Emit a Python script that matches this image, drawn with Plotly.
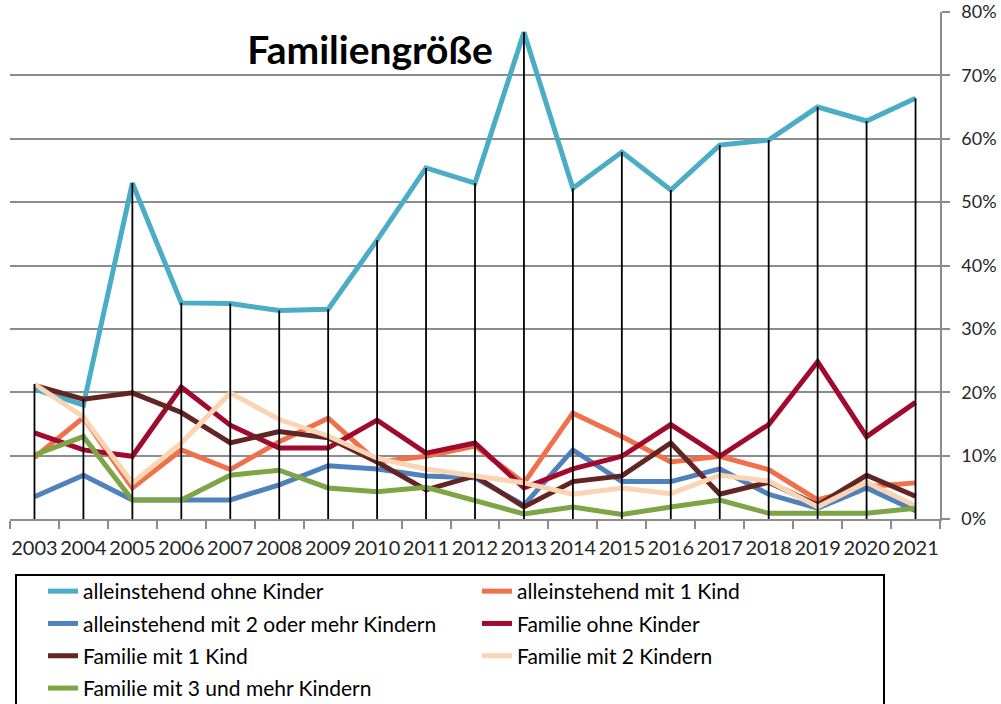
import plotly.graph_objects as go

years = [str(y) for y in range(2003, 2022)]

allein_ohne = [20.5, 18.0, 53.0, 34.1, 34.0, 32.9, 33.1, 44.0, 55.4, 53.0, 76.8, 52.2, 57.9, 51.9, 59.0, 59.8, 65.0, 62.8, 66.4]
allein_1 = [9.7, 16.0, 4.9, 10.9, 7.8, 12.2, 15.9, 9.0, 9.9, 11.5, 5.7, 16.7, 13.0, 9.0, 9.9, 7.8, 3.0, 5.1, 5.7]
allein_2 = [3.5, 6.9, 3.0, 3.0, 3.0, 5.4, 8.4, 7.9, 6.8, 6.5, 2.2, 10.9, 5.9, 5.9, 7.9, 3.9, 1.7, 4.9, 1.3]
fam_ohne = [13.6, 10.9, 9.9, 20.8, 14.8, 11.2, 11.2, 15.6, 10.4, 12.0, 4.9, 7.9, 9.9, 14.9, 9.9, 14.9, 24.8, 13.0, 18.4]
fam_1 = [21.1, 18.9, 19.9, 16.8, 12.0, 13.8, 12.8, 9.0, 4.6, 6.8, 1.9, 5.9, 6.8, 12.0, 3.9, 5.8, 2.2, 6.9, 3.6]
fam_2 = [21.3, 16.1, 5.7, 12.0, 19.9, 15.7, 13.1, 9.6, 7.9, 6.8, 5.7, 3.9, 4.9, 4.0, 6.9, 6.0, 1.9, 5.8, 2.1]
fam_3 = [10.1, 13.0, 3.0, 3.0, 6.9, 7.7, 4.9, 4.3, 5.0, 2.8, 0.8, 1.9, 0.7, 1.9, 3.0, 0.9, 0.9, 0.9, 1.7]

series_names = [
    "alleinstehend ohne Kinder",
    "alleinstehend mit 1 Kind",
    "alleinstehend mit 2 oder mehr Kindern",
    "Familie ohne Kinder",
    "Familie mit 1 Kind",
    "Familie mit 2 Kindern",
    "Familie mit 3 und mehr Kindern",
]
series_values = [allein_ohne, allein_1, allein_2, fam_ohne, fam_1, fam_2, fam_3]
colors = ["#4BACC6", "#F0704B", "#4F81BD", "#A20A2D", "#632523", "#FBD4B4", "#7DA445"]
legend_ref = ["legend", "legend2", "legend", "legend2", "legend", "legend2", "legend"]

y_ticks = list(range(0, 81, 10))

FONT = "Lato, 'Open Sans', sans-serif"

W, H = 1001, 704
PLOT_L, PLOT_R, PLOT_T, PLOT_B = 10, 940, 12, 519

def px_x(px):
    return (px - PLOT_L) / (PLOT_R - PLOT_L)

def px_y(py):
    return (PLOT_B - py) / (PLOT_B - PLOT_T)

fig = go.Figure()

for name, vals, col, lg in zip(series_names, series_values, colors, legend_ref):
    fig.add_trace(go.Scatter(
        x=years, y=vals, name=name, mode="lines",
        line=dict(color=col, width=5),
        legend=lg, legendgroup=name,
    ))

# drop lines from the highest value down to 0
dx, dy = [], []
for i, yr in enumerate(years):
    top = max(v[i] for v in series_values)
    dx += [yr, yr, None]
    dy += [0, top, None]
fig.add_trace(go.Scatter(x=dx, y=dy, mode="lines", line=dict(color="black", width=1.8),
                         showlegend=False, hoverinfo="skip"))

fig.update_layout(
    width=W, height=H,
    margin=dict(l=PLOT_L, r=W - PLOT_R, t=PLOT_T, b=H - PLOT_B, pad=0, autoexpand=False),
    paper_bgcolor="white", plot_bgcolor="white",
    font=dict(family=FONT, size=20, color="#262626"),
    title=dict(text="<b>Familiengröße</b>", x=370 / W, xref="container", xanchor="center",
               y=1 - 50 / H, yref="container", yanchor="middle",
               font=dict(family=FONT, size=39, color="black")),
    xaxis=dict(
        type="category", range=[-0.5, len(years) - 0.5],
        tickson="boundaries", ticks="outside", ticklen=8, tickcolor="#8c8c8c", tickwidth=1.5,
        showline=True, linecolor="#8c8c8c", linewidth=1.5,
        showgrid=False, zeroline=False, tickangle=0,
        tickfont=dict(family=FONT, size=20, color="#262626"),
        ticklabelstandoff=10,
    ),
    yaxis=dict(
        side="right", range=[0, 80], tickvals=y_ticks, ticktext=[f"{t}%" for t in y_ticks],
        ticks="outside", ticklen=8, tickcolor="#8c8c8c", tickwidth=1.5,
        showline=True, linecolor="#8c8c8c", linewidth=1.5,
        showgrid=True, gridcolor="#8c8c8c", gridwidth=1.5, zeroline=False,
        tickfont=dict(family=FONT, size=18, color="#262626"),
        ticklabelstandoff=8, ticklabeloverflow="allow",
    ),
    legend=dict(
        x=px_x(43), xanchor="left", y=px_y(571), yanchor="top",
        orientation="v", bgcolor="rgba(0,0,0,0)", borderwidth=0,
        font=dict(family=FONT, size=21, color="black"), tracegroupgap=2,
    ),
    legend2=dict(
        x=px_x(477), xanchor="left", y=px_y(571), yanchor="top",
        orientation="v", bgcolor="rgba(0,0,0,0)", borderwidth=0,
        font=dict(family=FONT, size=21, color="black"), tracegroupgap=2,
    ),
    shapes=[dict(type="rect", xref="paper", yref="paper",
                 x0=px_x(16), x1=px_x(884),
                 y0=px_y(740), y1=px_y(575),
                 line=dict(color="black", width=2), fillcolor="rgba(0,0,0,0)", layer="above")],
    hovermode=False,
)

fig.write_html("out.html", config={"displayModeBar": False},
               post_script="document.body.style.margin='0';")
